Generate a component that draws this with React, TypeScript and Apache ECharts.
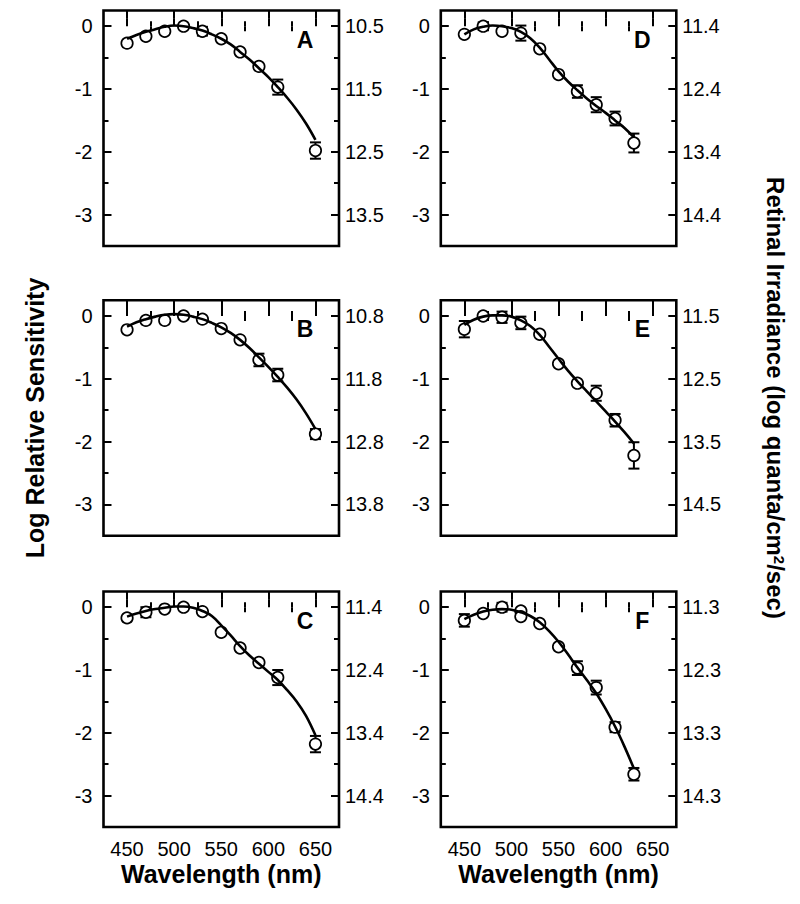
import React, { useEffect, useRef } from "react";
import * as echarts from "echarts";

// ---------- data ----------
const WL_ABC = [450, 470, 490, 510, 530, 550, 570, 590, 610, 650];
const WL_DE = [450, 470, 490, 510, 530, 550, 570, 590, 610, 630];
const WL_F = [450, 470, 490, 510, 510, 530, 550, 570, 590, 610, 630];

const SENS_A = [-0.27, -0.16, -0.08, 0.0, -0.08, -0.2, -0.41, -0.64, -0.97, -1.98];
const ERR_A = [0, 0, 0, 0, 0.07, 0, 0, 0, 0.12, 0.13];
const SENS_B = [-0.22, -0.07, -0.07, 0.0, -0.05, -0.2, -0.38, -0.7, -0.94, -1.88];
const ERR_B = [0, 0, 0, 0, 0, 0, 0, 0.1, 0.1, 0.08];
const SENS_C = [-0.17, -0.08, -0.03, 0.0, -0.07, -0.4, -0.65, -0.88, -1.12, -2.18];
const ERR_C = [0, 0.08, 0, 0, 0, 0, 0, 0, 0.12, 0.13];
const SENS_D = [-0.13, 0.0, -0.08, -0.11, -0.36, -0.77, -1.04, -1.25, -1.47, -1.86];
const ERR_D = [0, 0.06, 0, 0.12, 0, 0, 0.1, 0.12, 0.11, 0.15];
const SENS_E = [-0.21, 0.0, -0.02, -0.11, -0.29, -0.76, -1.07, -1.23, -1.66, -2.22];
const ERR_E = [0.13, 0, 0.09, 0.1, 0, 0, 0, 0.12, 0.1, 0.21];
const SENS_F = [-0.21, -0.1, 0.0, -0.06, -0.15, -0.26, -0.63, -0.97, -1.28, -1.91, -2.66];
const ERR_F = [0.1, 0, 0.07, 0, 0, 0, 0, 0.11, 0.11, 0.08, 0.1];

const CURVE_WL_ABC = [450, 460, 470, 480, 490, 500, 510, 520, 530, 540, 550, 560, 570, 580, 590, 600, 610, 620, 630, 640, 650];
const CURVE_WL_DEF = [450, 460, 470, 480, 490, 500, 510, 520, 530, 540, 550, 560, 570, 580, 590, 600, 610, 620, 630];

const CURVE_A = [-0.2, -0.14, -0.09, -0.05, -0.01, 0.01, 0.0, -0.03, -0.07, -0.13, -0.2, -0.29, -0.41, -0.53, -0.67, -0.81, -0.97, -1.14, -1.33, -1.55, -1.81];
const CURVE_B = [-0.17, -0.1, -0.05, -0.01, 0.02, 0.03, 0.02, -0.01, -0.05, -0.11, -0.18, -0.27, -0.38, -0.51, -0.66, -0.81, -0.97, -1.14, -1.33, -1.55, -1.8];
const CURVE_C = [-0.15, -0.1, -0.06, -0.03, -0.01, 0.01, 0.01, -0.01, -0.06, -0.14, -0.29, -0.45, -0.62, -0.77, -0.9, -1.03, -1.16, -1.32, -1.5, -1.73, -2.04];
const CURVE_D = [-0.13, -0.05, -0.01, 0.01, 0.0, -0.03, -0.09, -0.19, -0.34, -0.53, -0.72, -0.88, -1.02, -1.15, -1.27, -1.38, -1.5, -1.62, -1.77];
const CURVE_E = [-0.14, -0.06, -0.01, 0.01, 0.01, -0.01, -0.07, -0.16, -0.3, -0.49, -0.68, -0.87, -1.04, -1.2, -1.36, -1.52, -1.68, -1.85, -2.03];
const CURVE_F = [-0.19, -0.12, -0.07, -0.04, -0.03, -0.04, -0.08, -0.14, -0.24, -0.38, -0.55, -0.75, -0.96, -1.16, -1.37, -1.62, -1.9, -2.22, -2.57];

const PANEL_LABELS = ["A", "B", "C", "D", "E", "F"];
const RIGHT_OFFSETS = [10.5, 10.8, 11.4, 11.4, 11.5, 11.3];
const X_MAJOR = [450, 500, 550, 600, 650];
const X_MINOR = [475, 525, 575, 625];
const Y_MAJOR = [0, -1, -2, -3];
const Y_MINOR = [-0.5, -1.5, -2.5];

const FONT = '"Liberation Sans", Arial, Helvetica, sans-serif';

export default function App() {
  const ref = useRef<HTMLDivElement>(null);

  useEffect(() => {
    if (!ref.current) return;
    const chart = echarts.init(ref.current, null, { renderer: "svg" });

    const panels = [
      { wl: WL_ABC, sens: SENS_A, err: ERR_A, cwl: CURVE_WL_ABC, curve: CURVE_A, col: 0, row: 0 },
      { wl: WL_ABC, sens: SENS_B, err: ERR_B, cwl: CURVE_WL_ABC, curve: CURVE_B, col: 0, row: 1 },
      { wl: WL_ABC, sens: SENS_C, err: ERR_C, cwl: CURVE_WL_ABC, curve: CURVE_C, col: 0, row: 2 },
      { wl: WL_DE, sens: SENS_D, err: ERR_D, cwl: CURVE_WL_DEF, curve: CURVE_D, col: 1, row: 0 },
      { wl: WL_DE, sens: SENS_E, err: ERR_E, cwl: CURVE_WL_DEF, curve: CURVE_E, col: 1, row: 1 },
      { wl: WL_F, sens: SENS_F, err: ERR_F, cwl: CURVE_WL_DEF, curve: CURVE_F, col: 1, row: 2 },
    ];

    const colLeft = [103.5, 440.8];
    const rowTop = [10.5, 300.3, 591.5];
    const W = 235.5;
    const H = 235.5;

    const grids: any[] = [];
    const xAxes: any[] = [];
    const yAxes: any[] = [];
    const series: any[] = [];
    const graphics: any[] = [];

    const tickStyle = { color: "#000", width: 2 };
    const labelStyle = { color: "#000", fontSize: 20, fontFamily: FONT };

    panels.forEach((p, i) => {
      const left = colLeft[p.col];
      const top = rowTop[p.row];
      const off = RIGHT_OFFSETS[i];
      const bottomRow = p.row === 2;
      grids.push({ left, top, width: W, height: H, show: true, borderColor: "#000", borderWidth: 2.6, backgroundColor: "transparent" });
      grids.push({ left, top, width: W, height: H, show: false });
      const gMain = 2 * i;
      const gMinor = 2 * i + 1;

      const xBase = { type: "value", min: 425, max: 675, axisLine: { show: false }, splitLine: { show: false } };
      xAxes.push({
        ...xBase, gridIndex: gMain, position: "bottom",
        axisTick: { show: true, inside: true, length: 8, lineStyle: tickStyle, customValues: X_MAJOR },
        axisLabel: { show: bottomRow, margin: 12, ...labelStyle, customValues: X_MAJOR },
      });
      xAxes.push({
        ...xBase, gridIndex: gMain, position: "top",
        axisTick: { show: true, inside: true, length: 8, lineStyle: tickStyle, customValues: X_MAJOR },
        axisLabel: { show: false },
      });
      xAxes.push({
        ...xBase, gridIndex: gMinor, position: "bottom",
        axisTick: { show: true, inside: true, length: 5, lineStyle: tickStyle, customValues: X_MINOR },
        axisLabel: { show: false },
      });
      xAxes.push({
        ...xBase, gridIndex: gMinor, position: "top",
        axisTick: { show: true, inside: true, length: 5, lineStyle: tickStyle, customValues: X_MINOR },
        axisLabel: { show: false },
      });

      const yBase = { type: "value", min: -3.5, max: 0.25, axisLine: { show: false }, splitLine: { show: false } };
      const rMajor = Y_MAJOR.map((v) => Math.round((off - v) * 10) / 10);
      yAxes.push({
        ...yBase, gridIndex: gMain, position: "left",
        axisTick: { show: true, inside: true, length: 8, lineStyle: tickStyle, customValues: Y_MAJOR },
        axisLabel: { show: true, margin: 11, ...labelStyle, customValues: Y_MAJOR, formatter: (v: number) => String(Math.round(v)) },
      });
      yAxes.push({
        type: "value", gridIndex: gMain, position: "right", inverse: true,
        min: Math.round((off - 0.25) * 100) / 100, max: Math.round((off + 3.5) * 100) / 100,
        axisLine: { show: false }, splitLine: { show: false },
        axisTick: { show: true, inside: true, length: 8, lineStyle: tickStyle, customValues: rMajor },
        axisLabel: { show: true, margin: 6, ...labelStyle, customValues: rMajor, formatter: (v: number) => v.toFixed(1) },
      });
      yAxes.push({
        ...yBase, gridIndex: gMinor, position: "left",
        axisTick: { show: true, inside: true, length: 5, lineStyle: tickStyle, customValues: Y_MINOR },
        axisLabel: { show: false },
      });
      yAxes.push({
        ...yBase, gridIndex: gMinor, position: "right",
        axisTick: { show: true, inside: true, length: 5, lineStyle: tickStyle, customValues: Y_MINOR },
        axisLabel: { show: false },
      });

      const xi = 4 * i;
      const yi = 4 * i;

      const errData = p.wl
        .map((w, k) => [w, p.sens[k], p.err[k]])
        .filter((d) => d[2] > 0);

      series.push({
        type: "custom",
        xAxisIndex: xi,
        yAxisIndex: yi,
        data: errData,
        encode: { x: 0, y: 1 },
        z: 2,
        silent: true,
        renderItem: (_params: any, api: any) => {
          const x = api.value(0);
          const y = api.value(1);
          const e = api.value(2);
          const a = api.coord([x, y + e]);
          const b = api.coord([x, y - e]);
          const hw = 5.5;
          const st = { stroke: "#000", lineWidth: 2 };
          return {
            type: "group",
            children: [
              { type: "line", shape: { x1: a[0], y1: a[1], x2: b[0], y2: b[1] }, style: st },
              { type: "line", shape: { x1: a[0] - hw, y1: a[1], x2: a[0] + hw, y2: a[1] }, style: st },
              { type: "line", shape: { x1: b[0] - hw, y1: b[1], x2: b[0] + hw, y2: b[1] }, style: st },
            ],
          };
        },
      });
      series.push({
        type: "scatter",
        xAxisIndex: xi,
        yAxisIndex: yi,
        data: p.wl.map((w, k) => [w, p.sens[k]]),
        symbol: "circle",
        symbolSize: 11.5,
        itemStyle: { color: "#fff", borderColor: "#000", borderWidth: 1.7, opacity: 1 },
        z: 3,
        silent: true,
      });
      series.push({
        type: "line",
        xAxisIndex: xi,
        yAxisIndex: yi,
        data: p.cwl.map((w, k) => [w, p.curve[k]]),
        smooth: 0.4,
        showSymbol: false,
        symbol: "none",
        lineStyle: { color: "#000", width: 2.6 },
        z: 4,
        silent: true,
      });

      graphics.push({
        type: "text",
        x: left + W - 34,
        y: top + 29,
        style: {
          text: PANEL_LABELS[i],
          fill: "#000",
          font: `bold 23px ${FONT}`,
          align: "center",
          verticalAlign: "middle",
        },
      });
      if (bottomRow) {
        graphics.push({
          type: "text",
          x: left + W / 2,
          y: 874,
          style: {
            text: "Wavelength (nm)",
            fill: "#000",
            font: `bold 25px ${FONT}`,
            align: "center",
            verticalAlign: "middle",
          },
        });
      }
    });

    graphics.push({
      type: "text",
      x: 35,
      y: 418,
      rotation: Math.PI / 2,
      style: {
        text: "Log Relative Sensitivity",
        fill: "#000",
        font: `bold 25px ${FONT}`,
        align: "center",
        verticalAlign: "middle",
      },
    });
    graphics.push({
      type: "text",
      x: 775,
      y: 398,
      rotation: -Math.PI / 2,
      style: {
        text: "Retinal Irradiance (log quanta/cm{sup|2}/sec)",
        fill: "#000",
        font: `bold 24px ${FONT}`,
        fontWeight: "bold",
        fontSize: 24,
        fontFamily: FONT,
        align: "center",
        verticalAlign: "middle",
        rich: {
          sup: { fontSize: 15, fontWeight: "bold", fontFamily: FONT, fill: "#000", verticalAlign: "top", padding: [0, 0, 9, 0] },
        },
      },
    });

    chart.setOption({
      animation: false,
      backgroundColor: "#fff",
      grid: grids,
      xAxis: xAxes,
      yAxis: yAxes,
      series,
      graphic: graphics,
    });

    return () => chart.dispose();
  }, []);

  return (
    <div
      ref={ref}
      style={{ position: "fixed", left: 0, top: 0, width: 800, height: 904, background: "#fff" }}
    />
  );
}
